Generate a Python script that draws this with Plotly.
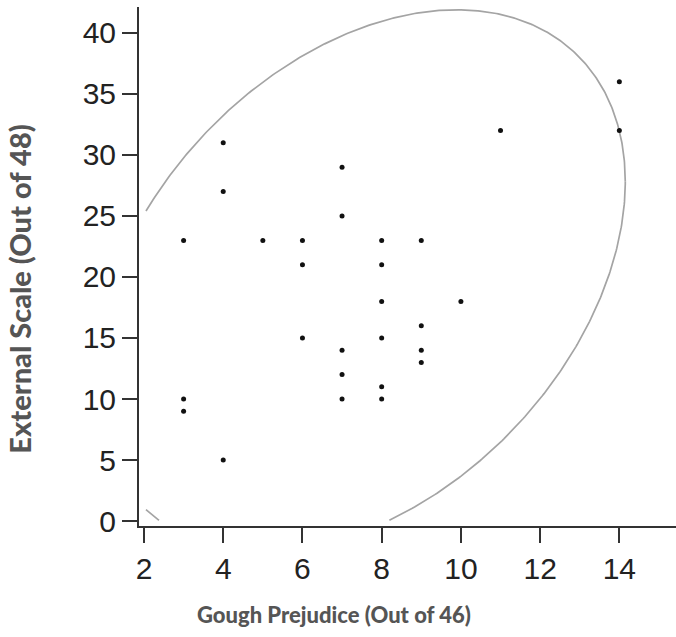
import numpy as np
import plotly.graph_objects as go

# Data
gough_prejudice = [3, 3, 3, 4, 4, 4, 5, 6, 6, 6, 7, 7, 7, 7, 7,
                   8, 8, 8, 8, 8, 8, 9, 9, 9, 9, 10, 11, 14, 14]
external_scale = [23, 10, 9, 31, 27, 5, 23, 23, 21, 15, 29, 25, 14, 12, 10,
                  23, 21, 18, 15, 11, 10, 23, 16, 14, 13, 18, 32, 36, 32]

x_ticks = [2, 4, 6, 8, 10, 12, 14]
y_ticks = [0, 5, 10, 15, 20, 25, 30, 35, 40]

x_title = "Gough Prejudice (Out of 46)"
y_title = "External Scale (Out of 48)"

# Density ellipse parameters (centre, half-extents along x / y, correlation)
ellipse_cx = 7.45
ellipse_cy = 19.7
ellipse_half_x = 6.7
ellipse_half_y = 22.2
ellipse_rho = 0.365
# inner frame of the original chart that the ellipse is clipped to
frame_x_min = 2.04
frame_y_min = 0.0

t = np.linspace(0, 2 * np.pi, 720)
ex = ellipse_cx + ellipse_half_x * np.cos(t)
ey = ellipse_cy + ellipse_half_y * (ellipse_rho * np.cos(t)
                                    + np.sqrt(1 - ellipse_rho ** 2) * np.sin(t))
outside = (ex < frame_x_min) | (ey < frame_y_min)
ex = np.where(outside, np.nan, ex)
ey = np.where(outside, np.nan, ey)

fig = go.Figure()
fig.add_trace(go.Scatter(x=ex, y=ey, mode="lines", connectgaps=False,
                         line=dict(color="#a4a4a4", width=1.7),
                         hoverinfo="skip", showlegend=False))
fig.add_trace(go.Scatter(x=gough_prejudice, y=external_scale, mode="markers",
                         marker=dict(color="#111111", size=5),
                         showlegend=False))

tick_font = dict(family="Liberation Sans, Arial, sans-serif", size=30, color="#222222")
title_family = "Lato Black, Lato, Open Sans, sans-serif"

fig.update_layout(
    width=676, height=637,
    margin=dict(l=139, r=0, t=7, b=111),
    paper_bgcolor="white", plot_bgcolor="white",
    xaxis=dict(range=[1.874, 15.43], tickvals=x_ticks, ticktext=[str(v) for v in x_ticks],
               showgrid=False, zeroline=False, showline=True, linecolor="#333333", linewidth=2,
               ticks="outside", ticklen=15, tickwidth=2, tickcolor="#333333",
               tickfont=tick_font),
    yaxis=dict(range=[-0.41, 42.13], tickvals=y_ticks, ticktext=[str(v) for v in y_ticks],
               showgrid=False, zeroline=False, showline=True, linecolor="#333333", linewidth=2,
               ticks="outside", ticklen=15, tickwidth=2, tickcolor="#333333",
               tickfont=tick_font),
    annotations=[
        dict(text=x_title, xref="paper", yref="paper", x=0.363, y=-0.1696,
             xanchor="center", yanchor="middle", showarrow=False,
             font=dict(family=title_family, size=22, color="#555555", weight=900)),
        dict(text=y_title, xref="paper", yref="paper", x=-0.224, y=0.4566,
             xanchor="center", yanchor="middle", showarrow=False, textangle=-90,
             font=dict(family=title_family, size=29, color="#555555", weight=900)),
    ],
)

fig.write_html("out.html")
